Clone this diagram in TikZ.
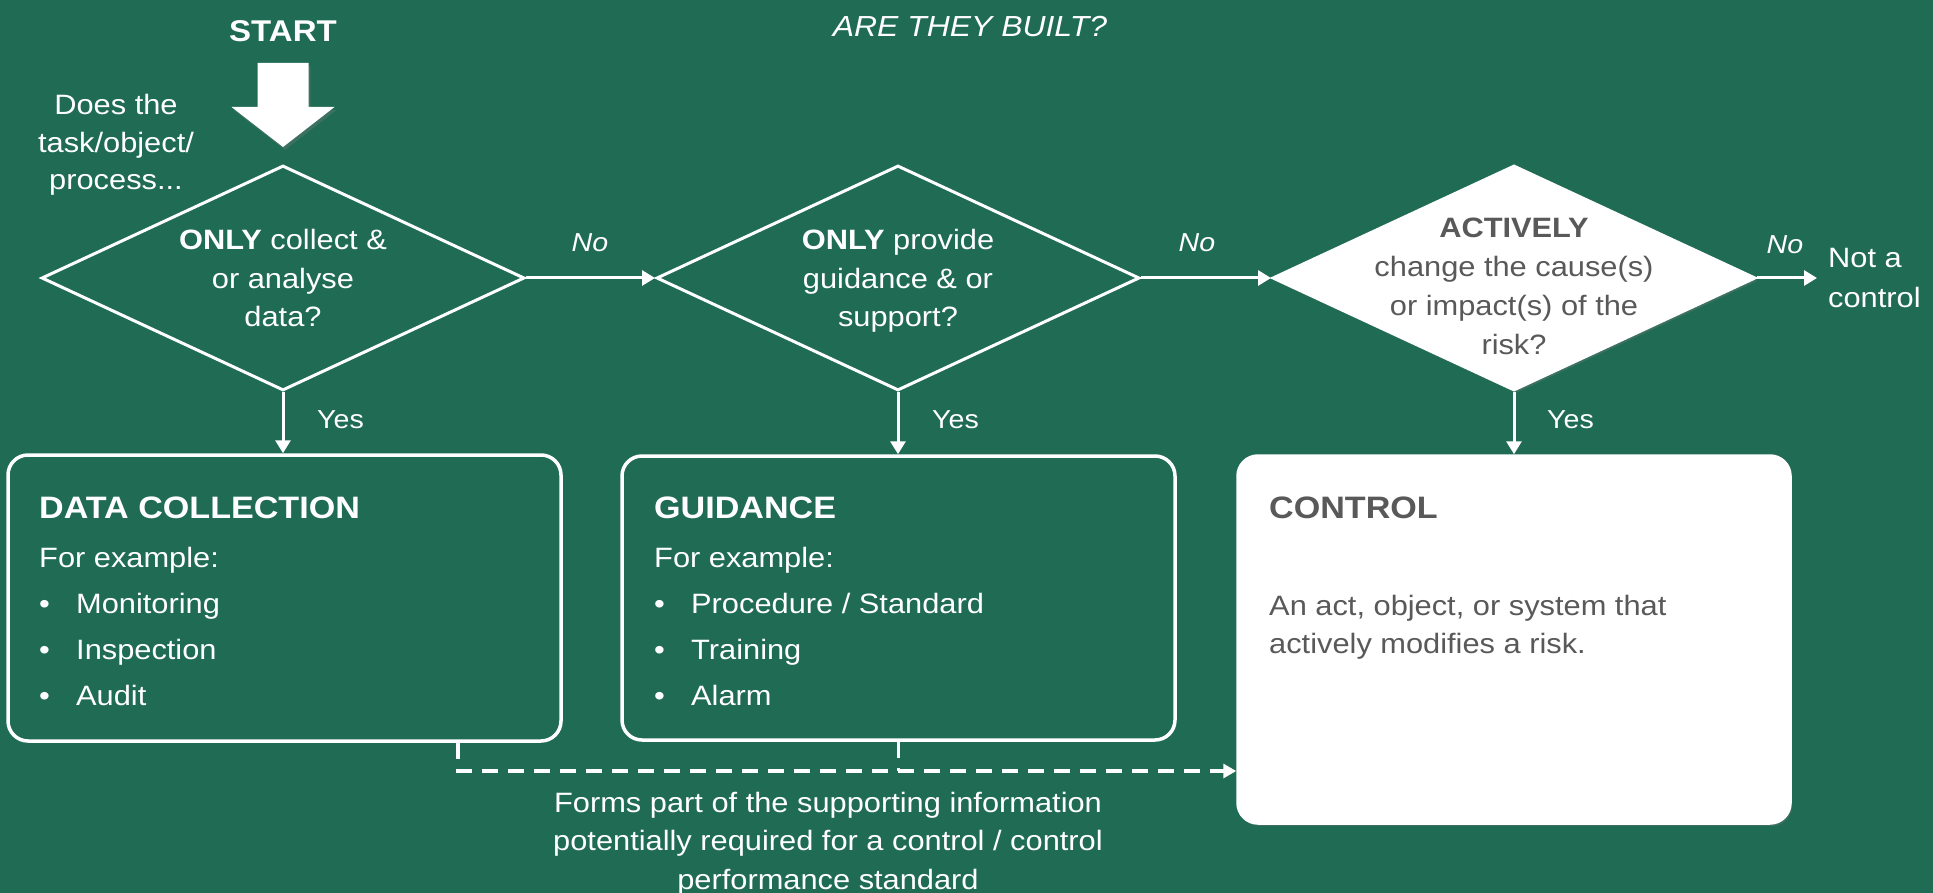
\documentclass[tikz,border=0pt]{standalone}
\usepackage{fontspec}
\setmainfont{Liberation Sans}[FakeStretch=1.1]
\usetikzlibrary{arrows.meta,shapes.geometric,shadows}
\definecolor{bg}{RGB}{31,107,84}
\definecolor{txtgray}{RGB}{89,89,89}
\newcommand\mlc[1]{\begin{tabular}[t]{@{}c@{}}#1\end{tabular}}
\newcommand\mll[1]{\begin{tabular}[t]{@{}l@{}}#1\end{tabular}}
\newcommand\bul{\makebox[37pt][l]{•}}
\begin{document}
\begin{tikzpicture}[x=1pt,y=-1pt,
  every node/.style={text=white, inner sep=0pt},
  body/.style={font=\fontsize{28}{38.5}\selectfont},
  lbl/.style={font=\itshape\fontsize{26}{30}\selectfont},
  yeslbl/.style={font=\fontsize{26}{30}\selectfont},
  head/.style={font=\bfseries\fontsize{31}{36}\selectfont},
  dia/.style={diamond, draw=white, line width=3pt, minimum width=483pt, minimum height=225pt, inner sep=0pt},
  box/.style={rectangle, rounded corners=20pt, draw=white, line width=3.5pt, inner sep=0pt},
  arr/.style={draw=white, line width=3pt, -{Triangle[length=13pt,width=15pt]}},
  dline/.style={draw=white, line width=3.5pt, dash pattern=on 16pt off 10pt},
  darr/.style={dline, -{Triangle[length=13pt,width=14pt]}},
  shad/.style={drop shadow={opacity=0.3, shadow xshift=2pt, shadow yshift=-3pt}},
]
\useasboundingbox (0,0) rectangle (1933,893);
\fill[bg] (0,0) rectangle (1933,893);

% title and start
\node[anchor=base, font=\itshape\fontsize{29}{34}\selectfont] (title) at (970,37) {ARE THEY BUILT?};
\node[anchor=base, font=\bfseries\fontsize{30}{36}\selectfont] (start) at (283,42) {START};
\fill[white, shad] (257.5,63) -- (308.5,63) -- (308.5,107) -- (334.5,107) -- (283,147) -- (231.5,107) -- (257.5,107) -- cycle;
\node[anchor=base, font=\fontsize{28}{37.5}\selectfont] (does) at (116,115) {\mlc{Does the\\task/object/\\process...}};

% diamonds
\node[dia] (d1) at (283,278) {};
\node[body, anchor=base] (t1) at (283,250) {\mlc{\textbf{ONLY} collect \&\\or analyse\\data?}};
\node[dia] (d2) at (898,278) {};
\node[body, anchor=base] (t2) at (898,250) {\mlc{\textbf{ONLY} provide\\guidance \& or\\support?}};
\node[dia, fill=white, shad] (d3) at (1514,278) {};
\node[anchor=base, text=txtgray, font=\fontsize{28}{39}\selectfont] (t3) at (1514,238) {\mlc{\textbf{ACTIVELY}\\change the cause(s)\\or impact(s) of the\\risk?}};

% No branches
\draw[arr] (d1.east) -- (d2.west);
\draw[arr] (d2.east) -- (d3.west);
\coordinate (nc) at (1817,278);
\draw[arr] (d3.east) -- (nc);
\node[anchor=base west, font=\fontsize{28}{40}\selectfont] (notc) at (1828,268) {\mll{Not a\\control}};
\node[lbl, anchor=base] (no1) at (590,252) {No};
\node[lbl, anchor=base] (no2) at (1197,252) {No};
\node[lbl, anchor=base] (no3) at (1785,254) {No};

% boxes
\node[box, minimum width=553pt, minimum height=286pt] (b1) at (284.5,598) {};
\node[box, minimum width=553pt, minimum height=284pt] (b2) at (898.5,598) {};
\node[box, fill=white, shad, minimum width=552pt, minimum height=367pt] (b3) at (1514,639.5) {};

% yes branches
\draw[arr] (d1.south) -- (d1.south |- b1.north);
\draw[arr] (d2.south) -- (d2.south |- b2.north);
\draw[arr] (d3.south) -- (d3.south |- b3.north);
\node[yeslbl, anchor=base west] (y1) at (317,428) {Yes};
\node[yeslbl, anchor=base west] (y2) at (932,428) {Yes};
\node[yeslbl, anchor=base west] (y3) at (1547,428) {Yes};

% box contents
\node[head, anchor=base west] (b1h) at (39,518) {DATA COLLECTION};
\node[anchor=base west, font=\fontsize{28}{46}\selectfont] (b1l) at (39,567) {\mll{For example:\\\bul Monitoring\\\bul Inspection\\\bul Audit}};
\node[head, anchor=base west] (b2h) at (654,518) {GUIDANCE};
\node[anchor=base west, font=\fontsize{28}{46}\selectfont] (b2l) at (654,567) {\mll{For example:\\\bul Procedure / Standard\\\bul Training\\\bul Alarm}};
\node[head, anchor=base west, text=txtgray] (b3h) at (1269,518) {CONTROL};
\node[body, anchor=base west, text=txtgray] (b3t) at (1269,615) {\mll{An act, object, or system that\\actively modifies a risk.}};

% dashed supporting-information connectors
\coordinate (j) at (458,771);
\draw[darr] (b1.south -| j) |- (b3.west |- j);
\draw[dline] (b2.south) -- (b2.south |- j);
\node[body, anchor=base] (note) at (828,812) {\mlc{Forms part of the supporting information\\potentially required for a control / control\\performance standard}};
\end{tikzpicture}
\end{document}
